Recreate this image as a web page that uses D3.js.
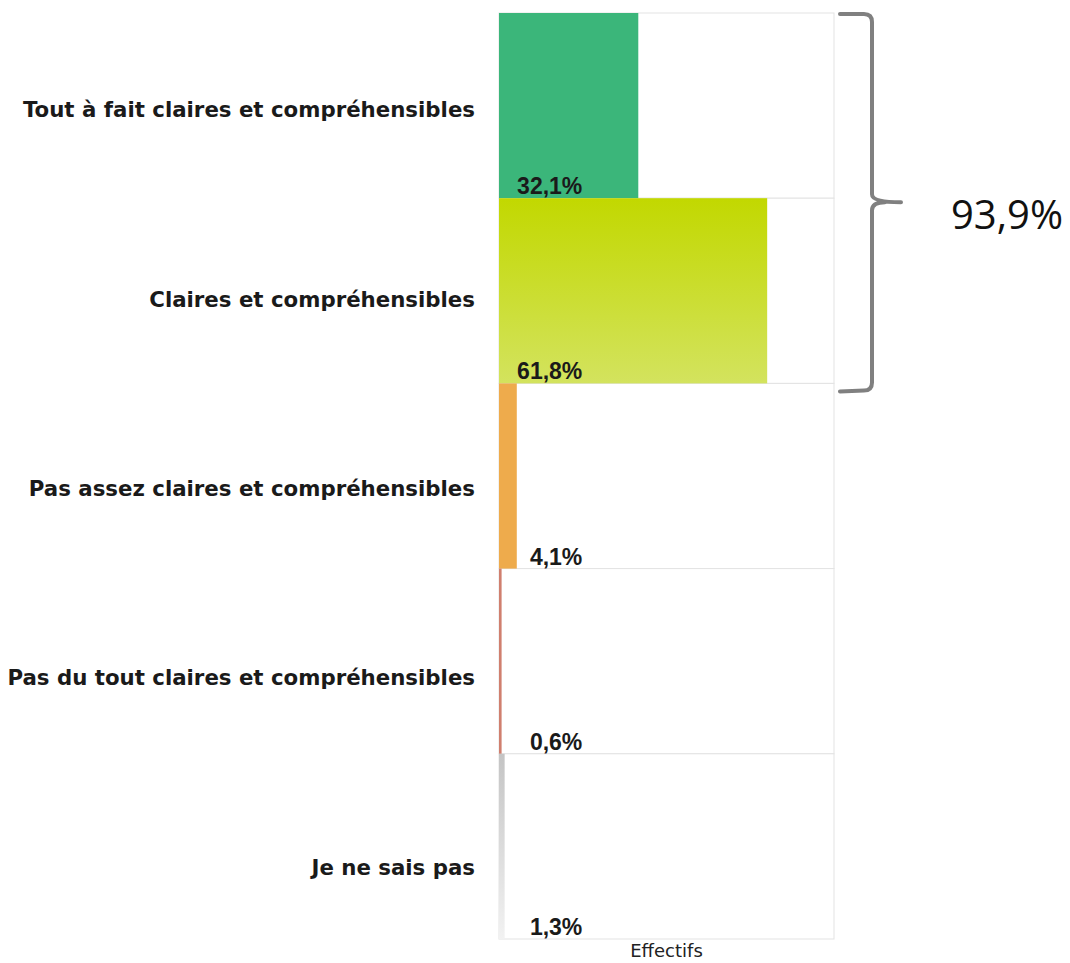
<!DOCTYPE html>
<meta charset="utf-8">
<style>
    body { margin: 0; background: #fff; }
    .cat { font-family: "DejaVu Sans", Verdana, sans-serif; font-weight: bold; font-size: 21.3px; fill: #1a1a1a; }
    .val { font-family: "Liberation Sans", Arial, sans-serif; font-weight: bold; font-size: 23px; fill: #1a1a1a; }
    .axis-title { font-family: "DejaVu Sans", Tahoma, sans-serif; font-size: 18px; fill: #222; }
    .total { font-family: "Open Sans", Calibri, sans-serif; font-size: 40px; fill: #111; }
</style>
<body></body>
<script src="https://d3js.org/d3.v7.min.js"></script>
<script>
    // data
    const categories = [
        "Tout à fait claires et compréhensibles",
        "Claires et compréhensibles",
        "Pas assez claires et compréhensibles",
        "Pas du tout claires et compréhensibles",
        "Je ne sais pas"
    ];
    const values = [32.1, 61.8, 4.1, 0.6, 1.3];
    const valueLabels = ["32,1%", "61,8%", "4,1%", "0,6%", "1,3%"];
    const topColors = ["#3bb67a", "#c2d800", "#eeab4c", "#d07f6e", "#c4c4c4"];
    const bottomColors = ["#3bb67a", "#d3e35e", "#eeab4c", "#d07f6e", "#f2f2f2"];
    const bracketLabel = "93,9%";
    const axisTitle = "Effectifs";

    const width = 1070, height = 963;
    const plot = {left: 499, right: 834, top: 13, bottom: 939};

    const svg = d3.select("body").append("svg")
        .attr("width", width)
        .attr("height", height);

    const x = d3.scaleLinear().domain([0, 77.2]).range([plot.left, plot.right]);
    const y = d3.scaleBand().domain(categories).range([plot.top, plot.bottom]);
    // the category labels sit on a slightly taller band than the bars
    const yLab = d3.scaleBand().domain(categories).range([15, 962]);

    // gradients per bar
    const defs = svg.append("defs");
    categories.forEach((c, i) => {
        const g = defs.append("linearGradient")
            .attr("id", "grad" + i)
            .attr("x1", 0).attr("y1", 0).attr("x2", 0).attr("y2", 1);
        g.append("stop").attr("offset", "0%").attr("stop-color", topColors[i]);
        g.append("stop").attr("offset", "100%").attr("stop-color", bottomColors[i]);
    });

    // row boxes
    svg.selectAll(".row")
        .data(categories)
      .enter().append("rect")
        .attr("class", "row")
        .attr("x", plot.left)
        .attr("y", d => y(d))
        .attr("width", plot.right - plot.left)
        .attr("height", y.bandwidth())
        .attr("fill", "#fff")
        .attr("stroke", "#e3e3e3")
        .attr("stroke-width", 1);

    // bars
    svg.selectAll(".bar")
        .data(values)
      .enter().append("rect")
        .attr("class", "bar")
        .attr("x", x(0))
        .attr("y", (d, i) => y(categories[i]))
        .attr("width", d => x(d) - x(0))
        .attr("height", y.bandwidth())
        .attr("fill", (d, i) => "url(#grad" + i + ")");

    // value labels
    svg.selectAll(".val")
        .data(valueLabels)
      .enter().append("text")
        .attr("class", "val")
        .attr("x", x(19.2))
        .attr("y", (d, i) => y(categories[i]) + y.bandwidth() - 4)
        .attr("text-anchor", "end")
        .text(d => d);

    // category labels
    svg.selectAll(".cat")
        .data(categories)
      .enter().append("text")
        .attr("class", "cat")
        .attr("x", 475)
        .attr("y", d => yLab(d) + yLab.bandwidth() / 2)
        .attr("dy", "0.35em")
        .attr("text-anchor", "end")
        .text(d => d);

    // axis title
    svg.append("text")
        .attr("class", "axis-title")
        .attr("x", (plot.left + plot.right) / 2)
        .attr("y", 957)
        .attr("text-anchor", "middle")
        .text(axisTitle);

    // curly bracket over first two rows
    const bTop = y(categories[0]) + 1,
        bBot = y(categories[1]) + y.bandwidth() + 7,
        bMid = (bTop + bBot) / 2,
        bx0 = 840, bx1 = 872, bx2 = 901, r = 8;
    const p = d3.path();
    p.moveTo(bx0, bTop);
    p.lineTo(bx1 - r, bTop);
    p.quadraticCurveTo(bx1, bTop, bx1, bTop + r);
    p.lineTo(bx1, bMid - r);
    p.quadraticCurveTo(bx1, bMid, bx2, bMid);
    p.moveTo(bx1, bMid + r);
    p.quadraticCurveTo(bx1, bMid, bx2 - 16, bMid);
    p.moveTo(bx1, bMid + r);
    p.lineTo(bx1, bBot - r);
    p.quadraticCurveTo(bx1, bBot, bx1 - r, bBot);
    p.lineTo(bx0, bBot + 1);
    svg.append("path")
        .attr("d", p.toString())
        .attr("fill", "none")
        .attr("stroke", "#808080")
        .attr("stroke-width", 4)
        .attr("stroke-linecap", "round");

    svg.append("text")
        .attr("class", "total")
        .attr("x", 951)
        .attr("y", 229)
        .text(bracketLabel);
</script>
